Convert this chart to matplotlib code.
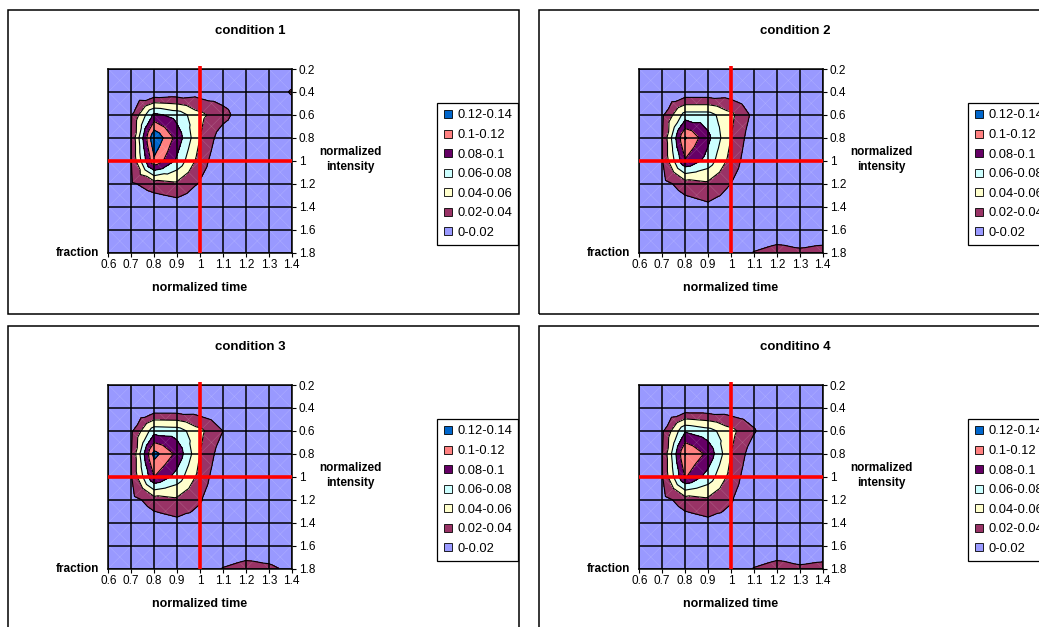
import numpy as np
import matplotlib
matplotlib.use('Agg')
import matplotlib.pyplot as plt
import matplotlib.tri as mtri
from matplotlib.patches import Rectangle
from matplotlib.lines import Line2D

plt.rcParams['font.family'] = ['Liberation Sans', 'DejaVu Sans']

# ── data ────────────────────────────────────────────────
times = [0.6, 0.7, 0.8, 0.9, 1.0, 1.1, 1.2, 1.3, 1.4]          # normalized time
fractions = [0.2, 0.4, 0.6, 0.8, 1.0, 1.2, 1.4, 1.6, 1.8]      # fraction

titles = ['condition 1', 'condition 2', 'condition 3', 'conditino 4']

# normalized intensity, one row per fraction, one column per time
cond1 = [
    [0, 0,     0,     0,     0,     0,     0,     0,     0.005],
    [0, 0.003, 0.0,   0.005, 0.010, 0.008, 0.004, 0.008, 0.022],
    [0, 0.018, 0.085, 0.072, 0.045, 0.028, 0.005, 0,     0.008],
    [0, 0.020, 0.138, 0.092, 0.040, 0.008, 0,     0,     0],
    [0, 0.020, 0.116, 0.076, 0.030, 0.003, 0,     0,     0],
    [0, 0.017, 0.030, 0.036, 0.018, 0,     0,     0,     0],
    [0, 0,     0.005, 0.010, 0.005, 0,     0,     0,     0],
    [0, 0,     0,     0,     0,     0,     0,     0,     0],
    [0, 0,     0,     0,     0,     0,     0,     0,     0],
]
cond2 = [
    [0, 0,     0,     0,     0,     0,     0,     0,     0],
    [0, 0.003, 0.005, 0.005, 0.008, 0.008, 0,     0,     0],
    [0, 0.016, 0.068, 0.068, 0.045, 0.014, 0,     0,     0],
    [0, 0.019, 0.122, 0.085, 0.040, 0.006, 0,     0,     0],
    [0, 0.019, 0.098, 0.072, 0.032, 0.003, 0,     0,     0],
    [0, 0.012, 0.030, 0.036, 0.020, 0,     0,     0,     0],
    [0, 0,     0.010, 0.016, 0.010, 0,     0,     0,     0],
    [0, 0,     0,     0,     0,     0,     0.005, 0.005, 0.005],
    [0, 0,     0,     0,     0,     0.021, 0.028, 0.0235, 0.027],
]
cond3 = [
    [0, 0,     0,     0,     0,     0,     0,     0,     0],
    [0, 0,     0.005, 0.005, 0.006, 0.006, 0,     0,     0],
    [0, 0.016, 0.072, 0.070, 0.045, 0.020, 0,     0,     0],
    [0, 0.019, 0.127, 0.095, 0.040, 0.008, 0,     0,     0],
    [0, 0.019, 0.100, 0.072, 0.032, 0.003, 0,     0,     0],
    [0, 0.012, 0.030, 0.036, 0.022, 0,     0,     0,     0],
    [0, 0,     0.010, 0.015, 0.012, 0,     0,     0,     0],
    [0, 0,     0,     0,     0,     0,     0.005, 0.005, 0],
    [0, 0,     0,     0,     0,     0.021, 0.028, 0.024, 0.015],
]
cond4 = [
    [0, 0,     0,     0,     0,     0,     0,     0,     0],
    [0, 0,     0.005, 0.005, 0.006, 0.008, 0,     0,     0],
    [0, 0.016, 0.078, 0.068, 0.046, 0.022, 0,     0,     0],
    [0, 0.019, 0.121, 0.095, 0.040, 0.008, 0,     0,     0],
    [0, 0.019, 0.102, 0.072, 0.032, 0.003, 0,     0,     0],
    [0, 0.012, 0.030, 0.036, 0.022, 0,     0,     0,     0],
    [0, 0,     0.010, 0.015, 0.012, 0,     0,     0,     0],
    [0, 0,     0,     0,     0,     0,     0.005, 0.005, 0.005],
    [0, 0,     0,     0,     0,     0.021, 0.028, 0.023, 0.026],
]

band_edges = [0, 0.02, 0.04, 0.06, 0.08, 0.1, 0.12, 0.14]
band_labels = ['0-0.02', '0.02-0.04', '0.04-0.06', '0.06-0.08',
               '0.08-0.1', '0.1-0.12', '0.12-0.14']
band_colors = ['#9999FF', '#993366', '#FFFFCC', '#CCFFFF',
               '#660066', '#FF8080', '#0066CC']

# red cross at the reference point
ref_time = 1.0
ref_fraction = 1.0

W, H = 1039, 627


def excel_tri(x, y, z):
    """Excel-style contour mesh: each cell split in 4 triangles around its mean."""
    x = np.asarray(x, float); y = np.asarray(y, float); z = np.asarray(z, float)
    ny, nx = z.shape
    X, Y = np.meshgrid(x, y)
    px, py, pz = list(X.ravel()), list(Y.ravel()), list(z.ravel())
    tris = []
    for j in range(ny - 1):
        for i in range(nx - 1):
            a = j * nx + i
            b, c, d = a + 1, a + nx + 1, a + nx
            k = len(px)
            px.append((x[i] + x[i + 1]) / 2)
            py.append((y[j] + y[j + 1]) / 2)
            pz.append(z[j:j + 2, i:i + 2].mean())
            tris += [[a, b, k], [b, c, k], [c, d, k], [d, a, k]]
    return mtri.Triangulation(px, py, tris), np.array(pz)


def draw_panel(fig, ox, oy, title, z, title_x):
    # chart border
    fig.add_artist(Rectangle(((8 + ox) / W, 1 - (314 + oy) / H), 511 / W, 304 / H,
                             transform=fig.transFigure, fill=False,
                             edgecolor='black', lw=1.1))
    fig.text(title_x / W, 1 - (31 + oy) / H, title, ha='center', va='center',
             fontsize=9.5, fontweight='bold')

    ax = fig.add_axes([(108.3 + ox) / W, 1 - (69 + oy + 183.5) / H,
                       183.4 / W, 183.5 / H])
    tri, vals = excel_tri(times, fractions, z)
    ax.tricontourf(tri, vals, levels=band_edges, colors=band_colors, zorder=1)
    # faint seams along the cell diagonals, as the spreadsheet renders them
    for i in range(len(times) - 1):
        for j in range(len(fractions) - 1):
            ax.plot([times[i], times[i + 1]], [fractions[j], fractions[j + 1]],
                    color='white', lw=0.5, alpha=0.15, zorder=1.2)
            ax.plot([times[i], times[i + 1]], [fractions[j + 1], fractions[j]],
                    color='white', lw=0.5, alpha=0.15, zorder=1.2)
    ax.tricontour(tri, vals, levels=band_edges[1:-1], colors='black',
                  linewidths=0.8, zorder=1.5)

    ax.plot([ref_time, ref_time], [fractions[0] - 0.025, fractions[-1]],
            color='#FF0000', lw=2.6, zorder=4, solid_capstyle='butt',
            clip_on=False)
    ax.plot([times[0], times[-1]], [ref_fraction, ref_fraction],
            color='#FF0000', lw=2.6, zorder=4, solid_capstyle='butt')

    ax.set_xlim(times[0], times[-1])
    ax.set_ylim(fractions[-1], fractions[0])
    ax.set_xticks(times)
    ax.set_xticklabels([f'{t:g}' for t in times])
    ax.set_yticks(fractions)
    ax.set_yticklabels([f'{f:g}' for f in fractions])
    ax.yaxis.tick_right()
    ax.set_axisbelow(False)
    ax.grid(True, color='black', lw=1.1)
    ax.tick_params(direction='out', length=3, width=0.8, pad=2,
                   labelsize=8.5, colors='black')
    for s in ax.spines.values():
        s.set_color('black')
        s.set_linewidth(1.1)

    ax.text(-0.05, 0.0, 'fraction', transform=ax.transAxes, ha='right',
            va='center', fontsize=8.5, fontweight='bold')
    ax.text(1.318, 0.507, 'normalized\nintensity', transform=ax.transAxes,
            ha='center', va='center', fontsize=8.5, fontweight='bold',
            linespacing=1.25)
    ax.text(0.5, -0.192, 'normalized time', transform=ax.transAxes,
            ha='center', va='center', fontsize=9, fontweight='bold')

    handles = [Line2D([], [], marker='s', ls='none', markersize=5.5,
                      markerfacecolor=c, markeredgecolor='black',
                      markeredgewidth=0.6)
               for c in band_colors[::-1]]
    leg = ax.legend(handles, band_labels[::-1], loc='upper left',
                    bbox_to_anchor=((437 + ox) / W, 1 - (103 + oy) / H),
                    bbox_transform=fig.transFigure, borderaxespad=0,
                    fontsize=9.3, frameon=True, fancybox=False,
                    framealpha=1, edgecolor='black', borderpad=0.5,
                    labelspacing=0.58, handlelength=0.7, handletextpad=0.35)
    leg.get_frame().set_linewidth(0.9)
    return ax


fig = plt.figure(figsize=(W / 100, H / 100), dpi=100)
fig.patch.set_facecolor('white')

panels = [(0, 0, cond1, 250), (531, 0, cond2, 795),
          (0, 316, cond3, 250), (531, 316, cond4, 795)]
for (ox, oy, z, tx), title in zip(panels, titles):
    draw_panel(fig, ox, oy, title, z, tx)

plt.savefig('out.png', dpi=100)
